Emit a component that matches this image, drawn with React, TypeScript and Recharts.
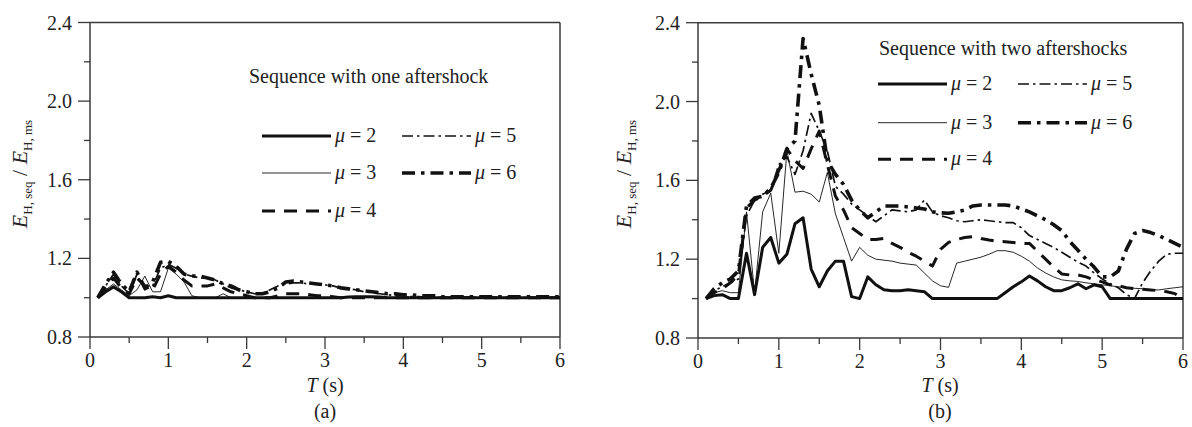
import React from 'react';
import { LineChart, Line, XAxis, YAxis, ReferenceLine } from 'recharts';

const T = [0.1,0.2,0.3,0.4,0.5,0.6,0.7,0.8,0.9,1.0,1.1,1.2,1.3,1.4,1.5,1.6,1.7,1.8,1.9,2.0,2.1,2.2,2.3,2.4,2.5,2.6,2.7,2.8,2.9,3.0,3.1,3.2,3.3,3.4,3.5,3.6,3.7,3.8,3.9,4.0,4.1,4.2,4.3,4.4,4.5,4.6,4.7,4.8,4.9,5.0,5.1,5.2,5.3,5.4,5.5,5.6,5.7,5.8,5.9,6.0];

// (a) Sequence with one aftershock
const A_MU2 = [1.0,1.03,1.055,1.03,1.0,1.0,1.0,1.005,1.0,1.01, 1.0,1.0,1.0,1.0,1.0,1.0,1.0,1.0,1.0,1.0, 1.0,1.0,1.0,1.0,1.0,1.0,1.0,1.0,1.0,1.0, 1.0,1.0,1.003,1.005,1.005,1.005,1.003,1.0,1.0,1.0, 1.0,1.0,1.0,1.0,1.0,1.0,1.0,1.0,1.0,1.0, 1.0,1.0,1.0,1.0,1.0,1.0,1.0,1.0,1.0,1.0];
const A_MU3 = [1.0,1.04,1.07,1.04,1.01,1.04,1.11,1.03,1.03,1.15, 1.12,1.08,1.01,1.0,1.0,1.0,1.02,1.0,1.0,1.0, 1.0,1.0,1.0,1.0,1.0,1.0,1.0,1.0,1.0,1.0, 1.0,1.0,1.0,1.0,1.0,1.0,1.0,1.0,1.0,1.0, 1.0,1.0,1.0,1.0,1.0,1.0,1.0,1.0,1.0,1.0, 1.0,1.0,1.0,1.0,1.0,1.0,1.0,1.0,1.0,1.0];
const A_MU4 = [1.0,1.05,1.1,1.05,1.02,1.1,1.06,1.04,1.12,1.16, 1.13,1.09,1.06,1.06,1.06,1.07,1.05,1.03,1.02,1.01, 1.0,1.0,1.0,1.01,1.02,1.02,1.02,1.015,1.01,1.01, 1.005,1.0,1.0,1.0,1.0,1.0,1.0,1.0,1.0,1.0, 1.0,1.0,1.0,1.0,1.0,1.0,1.0,1.0,1.0,1.0, 1.0,1.0,1.0,1.0,1.0,1.0,1.0,1.0,1.0,1.0];
const A_MU5 = [1.0,1.06,1.12,1.06,1.02,1.12,1.04,1.06,1.15,1.17, 1.15,1.12,1.11,1.1,1.1,1.09,1.07,1.05,1.04,1.03, 1.02,1.02,1.04,1.06,1.07,1.075,1.075,1.07,1.07,1.065, 1.06,1.05,1.045,1.04,1.03,1.025,1.02,1.015,1.01,1.01, 1.005,1.005,1.0,1.0,1.0,1.0,1.0,1.0,1.0,1.0, 1.0,1.0,1.0,1.0,1.0,1.0,1.0,1.0,1.0,1.0];
const A_MU6 = [1.0,1.07,1.13,1.07,1.03,1.13,1.05,1.08,1.18,1.185, 1.16,1.12,1.11,1.11,1.1,1.09,1.07,1.06,1.04,1.03, 1.02,1.02,1.03,1.05,1.08,1.085,1.08,1.075,1.07,1.065, 1.06,1.05,1.045,1.04,1.035,1.03,1.025,1.02,1.02,1.015, 1.015,1.01,1.01,1.01,1.005,1.005,1.005,1.005,1.005,1.005, 1.005,1.005,1.005,1.005,1.005,1.005,1.005,1.005,1.005,1.005];

// (b) Sequence with two aftershocks
const B_MU2 = [1.0,1.015,1.02,1.0,1.0,1.23,1.02,1.26,1.31,1.18, 1.225,1.38,1.41,1.15,1.06,1.14,1.19,1.19,1.01,1.0, 1.11,1.07,1.045,1.04,1.04,1.045,1.04,1.035,1.0,1.0, 1.0,1.0,1.0,1.0,1.0,1.0,1.0,1.03,1.06,1.085, 1.115,1.09,1.06,1.04,1.04,1.055,1.075,1.05,1.07,1.06, 1.0,1.0,1.0,1.0,1.0,1.0,1.0,1.0,1.0,1.0];
const B_MU3 = [1.0,1.03,1.04,1.03,1.03,1.44,1.03,1.44,1.535,1.23, 1.75,1.54,1.545,1.53,1.49,1.64,1.43,1.31,1.19,1.26, 1.22,1.2,1.195,1.19,1.18,1.175,1.17,1.13,1.09,1.065, 1.057,1.18,1.19,1.2,1.21,1.225,1.243,1.243,1.235,1.215, 1.19,1.155,1.13,1.11,1.095,1.09,1.087,1.08,1.075,1.07, 1.065,1.06,1.055,1.052,1.05,1.045,1.044,1.05,1.055,1.06];
const B_MU4 = [1.0,1.03,1.05,1.08,1.12,1.46,1.5,1.52,1.55,1.65, 1.76,1.7,1.66,1.76,1.85,1.68,1.52,1.45,1.36,1.33, 1.3,1.3,1.305,1.28,1.26,1.235,1.215,1.19,1.165,1.25, 1.285,1.3,1.31,1.314,1.305,1.297,1.29,1.289,1.285,1.28, 1.28,1.24,1.2,1.16,1.125,1.12,1.12,1.11,1.095,1.085, 1.07,1.065,1.055,1.05,1.047,1.044,1.04,1.035,1.025,1.0];
const B_MU5 = [1.0,1.04,1.06,1.08,1.1,1.42,1.5,1.53,1.55,1.68, 1.72,1.63,1.75,1.94,1.85,1.75,1.57,1.53,1.48,1.45, 1.42,1.39,1.42,1.45,1.445,1.44,1.45,1.5,1.44,1.42, 1.41,1.395,1.39,1.395,1.4,1.395,1.39,1.385,1.385,1.36, 1.32,1.3,1.28,1.26,1.235,1.21,1.185,1.165,1.13,1.1, 1.075,1.055,1.02,1.0,1.08,1.14,1.19,1.225,1.23,1.23];
const B_MU6 = [1.0,1.05,1.08,1.1,1.14,1.47,1.51,1.52,1.56,1.64, 1.76,1.8,2.32,2.14,1.98,1.7,1.63,1.58,1.5,1.45, 1.41,1.44,1.47,1.47,1.47,1.465,1.46,1.455,1.44,1.435, 1.433,1.44,1.45,1.47,1.475,1.475,1.475,1.475,1.47,1.455, 1.44,1.42,1.4,1.375,1.345,1.29,1.245,1.2,1.16,1.11, 1.11,1.14,1.25,1.33,1.345,1.335,1.32,1.3,1.28,1.26];

const X_TICKS = [0,0.5,1,1.5,2,2.5,3,3.5,4,4.5,5,5.5,6];
const Y_TICKS = [0.8,1.0,1.2,1.4,1.6,1.8,2.0,2.2,2.4];
const MU_LABELS = ['2','3','4','5','6'];
const TITLE_A = 'Sequence with one aftershock';
const TITLE_B = 'Sequence with two aftershocks';

const FONT = '"Liberation Serif", "Times New Roman", serif';
const AXIS = '#3a3a3a';
const INK = '#111';
const TXT = '#222';

type Style = { key: string; width: number; dash?: string };
const STYLES: Style[] = [
  { key: 'm2', width: 3 },
  { key: 'm3', width: 0.9 },
  { key: 'm4', width: 3, dash: '13 9' },
  { key: 'm5', width: 1.7, dash: '11 4 2.5 4' },
  { key: 'm6', width: 3.6, dash: '13 6 3.5 6' },
];

const buildRows = (s: number[][]) =>
  T.map((t, i) => ({ T: t, m2: s[0][i], m3: s[1][i], m4: s[2][i], m5: s[3][i], m6: s[4][i] }));

const ROWS_A = buildRows([A_MU2, A_MU3, A_MU4, A_MU5, A_MU6]);
const ROWS_B = buildRows([B_MU2, B_MU3, B_MU4, B_MU5, B_MU6]);

const XTick = (props: any) => {
  const { x, y, payload } = props;
  const v = Number(payload.value);
  const major = Math.abs(v - Math.round(v)) < 1e-6;
  return (
    <g>
      <line x1={x} y1={y} x2={x} y2={y + (major ? 12 : 6)} stroke={AXIS} strokeWidth={1.3} />
      {major && (
        <text x={x} y={y + 30} textAnchor="middle" fontSize={20} fontFamily={FONT} fill={TXT}>
          {String(Math.round(v))}
        </text>
      )}
    </g>
  );
};

const YTick = (props: any) => {
  const { x, y, payload } = props;
  const v = Number(payload.value);
  const major = Math.round(v * 10) % 4 === 0;
  return (
    <g>
      <line x1={x} y1={y} x2={x - (major ? 12 : 6)} y2={y} stroke={AXIS} strokeWidth={1.3} />
      {major && (
        <text x={x - 18} y={y + 7} textAnchor="end" fontSize={20} fontFamily={FONT} fill={TXT}>
          {v.toFixed(1)}
        </text>
      )}
    </g>
  );
};

type PanelProps = {
  rows: any[];
  left: number;
  width: number;
  top: number;
  right: number;
  bottom: number;
  yAxisWidth: number;
};

const Panel = ({ rows, left, width, top, right, bottom, yAxisWidth }: PanelProps) => (
  <div style={{ position: 'absolute', left, top: 0 }}>
    <LineChart width={width} height={427} data={rows} margin={{ top, right, bottom, left: 0 }}>
      <XAxis
        dataKey="T"
        type="number"
        domain={[0, 6]}
        ticks={X_TICKS}
        interval={0}
        height={40}
        tickLine={false}
        tickSize={0}
        tickMargin={0}
        tick={(p: any) => <XTick {...p} />}
        axisLine={{ stroke: AXIS, strokeWidth: 1.5 }}
        allowDataOverflow
      />
      <YAxis
        type="number"
        domain={[0.8, 2.4]}
        ticks={Y_TICKS}
        interval={0}
        width={yAxisWidth}
        tickLine={false}
        tickSize={0}
        tickMargin={0}
        tick={(p: any) => <YTick {...p} />}
        axisLine={{ stroke: AXIS, strokeWidth: 1.5 }}
        allowDataOverflow
      />
      <ReferenceLine y={2.4} stroke={AXIS} strokeWidth={1.5} />
      <ReferenceLine x={6} stroke={AXIS} strokeWidth={1.5} />
      {STYLES.map((s) => (
        <Line
          key={s.key}
          dataKey={s.key}
          type="linear"
          stroke={INK}
          strokeWidth={s.width}
          strokeDasharray={s.dash}
          strokeLinejoin="round"
          dot={false}
          activeDot={false}
          isAnimationActive={false}
        />
      ))}
    </LineChart>
  </div>
);

type LegendProps = {
  title: string;
  titleX: number;
  titleY: number;
  col1: number;
  col2: number;
  rowsY: number[];
};

const LegendBlock = ({ title, titleX, titleY, col1, col2, rowsY }: LegendProps) => {
  const items = STYLES.map((s, i) => {
    const col = i < 3 ? col1 : col2;
    const ry = rowsY[i < 3 ? i : i - 3];
    return (
      <g key={s.key}>
        <line x1={col} y1={ry} x2={col + 69} y2={ry} stroke={INK} strokeWidth={s.width} strokeDasharray={s.dash} />
        <text x={col + 73} y={ry + 6} fontSize={20} fontFamily={FONT} fill={TXT}>
          <tspan fontStyle="italic">μ</tspan>
          <tspan> = {MU_LABELS[i]}</tspan>
        </text>
      </g>
    );
  });
  return (
    <g>
      <text x={titleX} y={titleY} fontSize={20} fontFamily={FONT} fill={TXT}>
        {title}
      </text>
      {items}
    </g>
  );
};

const YTitle = ({ cx, cy }: { cx: number; cy: number }) => (
  <text
    x={cx}
    y={cy}
    transform={`rotate(-90, ${cx}, ${cy})`}
    textAnchor="middle"
    fontFamily={FONT}
    fill={TXT}
    fontSize={22}
  >
    <tspan fontStyle="italic">E</tspan>
    <tspan fontSize={13} dy={5}>H, seq</tspan>
    <tspan dy={-5}> / </tspan>
    <tspan fontStyle="italic">E</tspan>
    <tspan fontSize={13} dy={5}>H, ms</tspan>
  </text>
);

const XTitle = ({ cx, label }: { cx: number; label: string }) => (
  <g>
    <text x={cx} y={392} textAnchor="middle" fontFamily={FONT} fill={TXT} fontSize={20}>
      <tspan fontStyle="italic">T</tspan>
      <tspan> (s)</tspan>
    </text>
    <text x={cx} y={418} textAnchor="middle" fontFamily={FONT} fill={TXT} fontSize={20}>
      {label}
    </text>
  </g>
);

export default function App() {
  return (
    <div style={{ position: 'absolute', left: 0, top: 0, width: 1192, height: 427, background: '#fff', overflow: 'hidden' }}>
      <Panel rows={ROWS_A} left={0} width={600} top={22.5} right={40} bottom={50} yAxisWidth={90} />
      <Panel rows={ROWS_B} left={600} width={592} top={22.7} right={9} bottom={49} yAxisWidth={98} />
      <svg width={1192} height={427} style={{ position: 'absolute', left: 0, top: 0, pointerEvents: 'none' }}>
        <YTitle cx={27} cy={174} />
        <YTitle cx={631} cy={174} />
        <XTitle cx={325} label="(a)" />
        <XTitle cx={940} label="(b)" />
        <LegendBlock title={TITLE_A} titleX={249} titleY={83} col1={262} col2={402} rowsY={[136, 173, 211]} />
        <LegendBlock title={TITLE_B} titleX={879} titleY={55} col1={878} col2={1018} rowsY={[84, 122.7, 159.3]} />
      </svg>
    </div>
  );
}
